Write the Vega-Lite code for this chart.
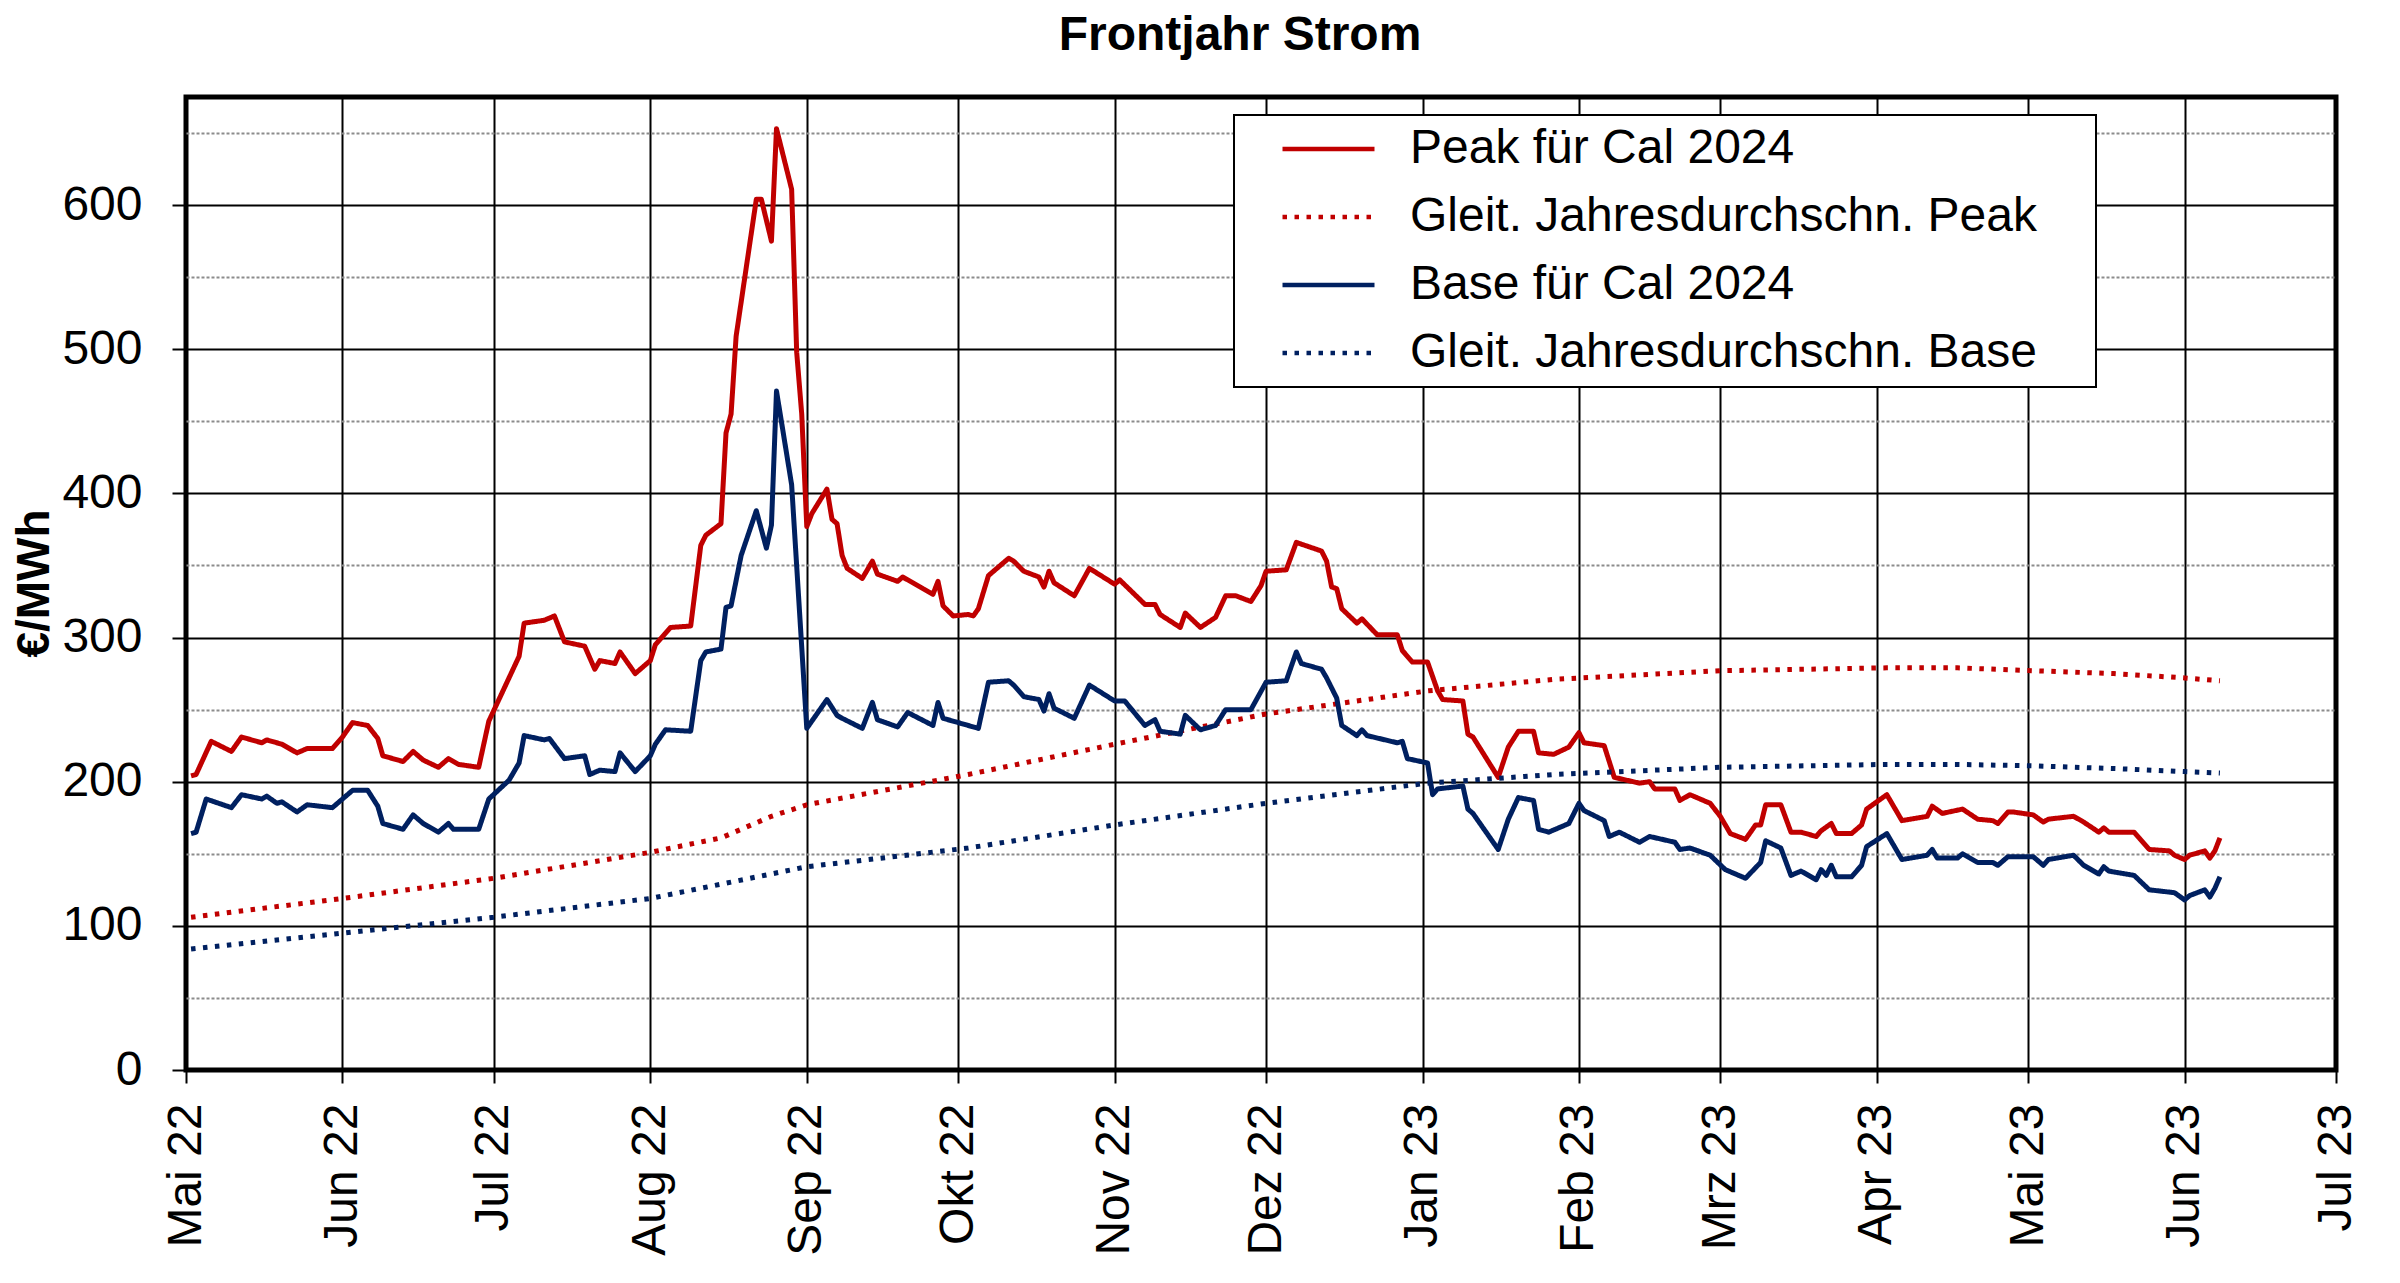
{
  "$schema": "https://vega.github.io/schema/vega-lite/v6.json",
  "autosize": "none",
  "width": 2150,
  "height": 973,
  "padding": {"left": 186, "top": 97, "right": 64, "bottom": 213},
  "background": "white",
  "title": {
    "text": "Frontjahr Strom",
    "fontSize": 48,
    "fontWeight": "bold",
    "anchor": "middle",
    "frame": "group",
    "baseline": "alphabetic",
    "offset": -1,
    "dx": -21,
    "color": "black"
  },
  "config": {
    "font": "Liberation Sans",
    "view": {"stroke": "black", "strokeWidth": 5},
    "axis": {"domain": false, "labelColor": "black", "titleColor": "black", "labelFontSize": 48, "tickColor": "black", "tickWidth": 2}
  },
  "data": {
    "values": [
      {"s": "Peak für Cal 2024", "d": "2022-05-02", "v": 204},
      {"s": "Peak für Cal 2024", "d": "2022-05-03", "v": 205},
      {"s": "Peak für Cal 2024", "d": "2022-05-06", "v": 228},
      {"s": "Peak für Cal 2024", "d": "2022-05-10", "v": 221},
      {"s": "Peak für Cal 2024", "d": "2022-05-12", "v": 231},
      {"s": "Peak für Cal 2024", "d": "2022-05-16", "v": 227},
      {"s": "Peak für Cal 2024", "d": "2022-05-17", "v": 229},
      {"s": "Peak für Cal 2024", "d": "2022-05-20", "v": 226},
      {"s": "Peak für Cal 2024", "d": "2022-05-23", "v": 220},
      {"s": "Peak für Cal 2024", "d": "2022-05-25", "v": 223},
      {"s": "Peak für Cal 2024", "d": "2022-05-30", "v": 223},
      {"s": "Peak für Cal 2024", "d": "2022-06-01", "v": 231},
      {"s": "Peak für Cal 2024", "d": "2022-06-03", "v": 241},
      {"s": "Peak für Cal 2024", "d": "2022-06-06", "v": 239},
      {"s": "Peak für Cal 2024", "d": "2022-06-08", "v": 230},
      {"s": "Peak für Cal 2024", "d": "2022-06-09", "v": 218},
      {"s": "Peak für Cal 2024", "d": "2022-06-13", "v": 214},
      {"s": "Peak für Cal 2024", "d": "2022-06-15", "v": 221},
      {"s": "Peak für Cal 2024", "d": "2022-06-17", "v": 215},
      {"s": "Peak für Cal 2024", "d": "2022-06-20", "v": 210},
      {"s": "Peak für Cal 2024", "d": "2022-06-22", "v": 216},
      {"s": "Peak für Cal 2024", "d": "2022-06-24", "v": 212},
      {"s": "Peak für Cal 2024", "d": "2022-06-28", "v": 210},
      {"s": "Peak für Cal 2024", "d": "2022-06-30", "v": 242},
      {"s": "Peak für Cal 2024", "d": "2022-07-06", "v": 287},
      {"s": "Peak für Cal 2024", "d": "2022-07-07", "v": 310},
      {"s": "Peak für Cal 2024", "d": "2022-07-11", "v": 312},
      {"s": "Peak für Cal 2024", "d": "2022-07-13", "v": 315},
      {"s": "Peak für Cal 2024", "d": "2022-07-15", "v": 297},
      {"s": "Peak für Cal 2024", "d": "2022-07-19", "v": 294},
      {"s": "Peak für Cal 2024", "d": "2022-07-21", "v": 278},
      {"s": "Peak für Cal 2024", "d": "2022-07-22", "v": 284},
      {"s": "Peak für Cal 2024", "d": "2022-07-25", "v": 282},
      {"s": "Peak für Cal 2024", "d": "2022-07-26", "v": 290},
      {"s": "Peak für Cal 2024", "d": "2022-07-29", "v": 275},
      {"s": "Peak für Cal 2024", "d": "2022-08-01", "v": 284},
      {"s": "Peak für Cal 2024", "d": "2022-08-02", "v": 295},
      {"s": "Peak für Cal 2024", "d": "2022-08-05", "v": 307},
      {"s": "Peak für Cal 2024", "d": "2022-08-09", "v": 308},
      {"s": "Peak für Cal 2024", "d": "2022-08-11", "v": 364},
      {"s": "Peak für Cal 2024", "d": "2022-08-12", "v": 371},
      {"s": "Peak für Cal 2024", "d": "2022-08-15", "v": 379},
      {"s": "Peak für Cal 2024", "d": "2022-08-16", "v": 442},
      {"s": "Peak für Cal 2024", "d": "2022-08-17", "v": 455},
      {"s": "Peak für Cal 2024", "d": "2022-08-18", "v": 509},
      {"s": "Peak für Cal 2024", "d": "2022-08-22", "v": 604},
      {"s": "Peak für Cal 2024", "d": "2022-08-23", "v": 604},
      {"s": "Peak für Cal 2024", "d": "2022-08-25", "v": 575},
      {"s": "Peak für Cal 2024", "d": "2022-08-26", "v": 653},
      {"s": "Peak für Cal 2024", "d": "2022-08-29", "v": 611},
      {"s": "Peak für Cal 2024", "d": "2022-08-30", "v": 498},
      {"s": "Peak für Cal 2024", "d": "2022-08-31", "v": 455},
      {"s": "Peak für Cal 2024", "d": "2022-09-01", "v": 377},
      {"s": "Peak für Cal 2024", "d": "2022-09-02", "v": 386},
      {"s": "Peak für Cal 2024", "d": "2022-09-05", "v": 403},
      {"s": "Peak für Cal 2024", "d": "2022-09-06", "v": 382},
      {"s": "Peak für Cal 2024", "d": "2022-09-07", "v": 379},
      {"s": "Peak für Cal 2024", "d": "2022-09-08", "v": 357},
      {"s": "Peak für Cal 2024", "d": "2022-09-09", "v": 348},
      {"s": "Peak für Cal 2024", "d": "2022-09-12", "v": 341},
      {"s": "Peak für Cal 2024", "d": "2022-09-14", "v": 353},
      {"s": "Peak für Cal 2024", "d": "2022-09-15", "v": 344},
      {"s": "Peak für Cal 2024", "d": "2022-09-19", "v": 339},
      {"s": "Peak für Cal 2024", "d": "2022-09-20", "v": 342},
      {"s": "Peak für Cal 2024", "d": "2022-09-26", "v": 330},
      {"s": "Peak für Cal 2024", "d": "2022-09-27", "v": 339},
      {"s": "Peak für Cal 2024", "d": "2022-09-28", "v": 322},
      {"s": "Peak für Cal 2024", "d": "2022-09-30", "v": 315},
      {"s": "Peak für Cal 2024", "d": "2022-10-03", "v": 316},
      {"s": "Peak für Cal 2024", "d": "2022-10-04", "v": 315},
      {"s": "Peak für Cal 2024", "d": "2022-10-05", "v": 320},
      {"s": "Peak für Cal 2024", "d": "2022-10-07", "v": 343},
      {"s": "Peak für Cal 2024", "d": "2022-10-10", "v": 352},
      {"s": "Peak für Cal 2024", "d": "2022-10-11", "v": 355},
      {"s": "Peak für Cal 2024", "d": "2022-10-12", "v": 353},
      {"s": "Peak für Cal 2024", "d": "2022-10-14", "v": 346},
      {"s": "Peak für Cal 2024", "d": "2022-10-17", "v": 342},
      {"s": "Peak für Cal 2024", "d": "2022-10-18", "v": 335},
      {"s": "Peak für Cal 2024", "d": "2022-10-19", "v": 346},
      {"s": "Peak für Cal 2024", "d": "2022-10-20", "v": 338},
      {"s": "Peak für Cal 2024", "d": "2022-10-24", "v": 329},
      {"s": "Peak für Cal 2024", "d": "2022-10-27", "v": 348},
      {"s": "Peak für Cal 2024", "d": "2022-11-01", "v": 337},
      {"s": "Peak für Cal 2024", "d": "2022-11-02", "v": 340},
      {"s": "Peak für Cal 2024", "d": "2022-11-07", "v": 323},
      {"s": "Peak für Cal 2024", "d": "2022-11-09", "v": 323},
      {"s": "Peak für Cal 2024", "d": "2022-11-10", "v": 316},
      {"s": "Peak für Cal 2024", "d": "2022-11-14", "v": 307},
      {"s": "Peak für Cal 2024", "d": "2022-11-15", "v": 317},
      {"s": "Peak für Cal 2024", "d": "2022-11-18", "v": 307},
      {"s": "Peak für Cal 2024", "d": "2022-11-21", "v": 314},
      {"s": "Peak für Cal 2024", "d": "2022-11-23", "v": 329},
      {"s": "Peak für Cal 2024", "d": "2022-11-25", "v": 329},
      {"s": "Peak für Cal 2024", "d": "2022-11-28", "v": 325},
      {"s": "Peak für Cal 2024", "d": "2022-11-30", "v": 336},
      {"s": "Peak für Cal 2024", "d": "2022-12-01", "v": 346},
      {"s": "Peak für Cal 2024", "d": "2022-12-05", "v": 347},
      {"s": "Peak für Cal 2024", "d": "2022-12-07", "v": 366},
      {"s": "Peak für Cal 2024", "d": "2022-12-12", "v": 360},
      {"s": "Peak für Cal 2024", "d": "2022-12-13", "v": 353},
      {"s": "Peak für Cal 2024", "d": "2022-12-14", "v": 335},
      {"s": "Peak für Cal 2024", "d": "2022-12-15", "v": 334},
      {"s": "Peak für Cal 2024", "d": "2022-12-16", "v": 320},
      {"s": "Peak für Cal 2024", "d": "2022-12-19", "v": 310},
      {"s": "Peak für Cal 2024", "d": "2022-12-20", "v": 313},
      {"s": "Peak für Cal 2024", "d": "2022-12-23", "v": 302},
      {"s": "Peak für Cal 2024", "d": "2022-12-27", "v": 302},
      {"s": "Peak für Cal 2024", "d": "2022-12-28", "v": 291},
      {"s": "Peak für Cal 2024", "d": "2022-12-30", "v": 283},
      {"s": "Peak für Cal 2024", "d": "2023-01-02", "v": 283},
      {"s": "Peak für Cal 2024", "d": "2023-01-04", "v": 263},
      {"s": "Peak für Cal 2024", "d": "2023-01-05", "v": 257},
      {"s": "Peak für Cal 2024", "d": "2023-01-09", "v": 256},
      {"s": "Peak für Cal 2024", "d": "2023-01-10", "v": 233},
      {"s": "Peak für Cal 2024", "d": "2023-01-11", "v": 231},
      {"s": "Peak für Cal 2024", "d": "2023-01-16", "v": 203},
      {"s": "Peak für Cal 2024", "d": "2023-01-18", "v": 224},
      {"s": "Peak für Cal 2024", "d": "2023-01-20", "v": 235},
      {"s": "Peak für Cal 2024", "d": "2023-01-23", "v": 235},
      {"s": "Peak für Cal 2024", "d": "2023-01-24", "v": 220},
      {"s": "Peak für Cal 2024", "d": "2023-01-27", "v": 219},
      {"s": "Peak für Cal 2024", "d": "2023-01-30", "v": 224},
      {"s": "Peak für Cal 2024", "d": "2023-02-01", "v": 234},
      {"s": "Peak für Cal 2024", "d": "2023-02-02", "v": 227},
      {"s": "Peak für Cal 2024", "d": "2023-02-06", "v": 225},
      {"s": "Peak für Cal 2024", "d": "2023-02-08", "v": 203},
      {"s": "Peak für Cal 2024", "d": "2023-02-13", "v": 199},
      {"s": "Peak für Cal 2024", "d": "2023-02-15", "v": 200},
      {"s": "Peak für Cal 2024", "d": "2023-02-16", "v": 195},
      {"s": "Peak für Cal 2024", "d": "2023-02-20", "v": 195},
      {"s": "Peak für Cal 2024", "d": "2023-02-21", "v": 187},
      {"s": "Peak für Cal 2024", "d": "2023-02-23", "v": 191},
      {"s": "Peak für Cal 2024", "d": "2023-02-27", "v": 185},
      {"s": "Peak für Cal 2024", "d": "2023-03-01", "v": 176},
      {"s": "Peak für Cal 2024", "d": "2023-03-03", "v": 164},
      {"s": "Peak für Cal 2024", "d": "2023-03-06", "v": 160},
      {"s": "Peak für Cal 2024", "d": "2023-03-08", "v": 170},
      {"s": "Peak für Cal 2024", "d": "2023-03-09", "v": 170},
      {"s": "Peak für Cal 2024", "d": "2023-03-10", "v": 184},
      {"s": "Peak für Cal 2024", "d": "2023-03-13", "v": 184},
      {"s": "Peak für Cal 2024", "d": "2023-03-15", "v": 165},
      {"s": "Peak für Cal 2024", "d": "2023-03-17", "v": 165},
      {"s": "Peak für Cal 2024", "d": "2023-03-20", "v": 162},
      {"s": "Peak für Cal 2024", "d": "2023-03-21", "v": 166},
      {"s": "Peak für Cal 2024", "d": "2023-03-23", "v": 171},
      {"s": "Peak für Cal 2024", "d": "2023-03-24", "v": 164},
      {"s": "Peak für Cal 2024", "d": "2023-03-27", "v": 164},
      {"s": "Peak für Cal 2024", "d": "2023-03-29", "v": 170},
      {"s": "Peak für Cal 2024", "d": "2023-03-30", "v": 181},
      {"s": "Peak für Cal 2024", "d": "2023-04-03", "v": 191},
      {"s": "Peak für Cal 2024", "d": "2023-04-06", "v": 173},
      {"s": "Peak für Cal 2024", "d": "2023-04-11", "v": 176},
      {"s": "Peak für Cal 2024", "d": "2023-04-12", "v": 183},
      {"s": "Peak für Cal 2024", "d": "2023-04-14", "v": 178},
      {"s": "Peak für Cal 2024", "d": "2023-04-18", "v": 181},
      {"s": "Peak für Cal 2024", "d": "2023-04-21", "v": 174},
      {"s": "Peak für Cal 2024", "d": "2023-04-24", "v": 173},
      {"s": "Peak für Cal 2024", "d": "2023-04-25", "v": 171},
      {"s": "Peak für Cal 2024", "d": "2023-04-27", "v": 179},
      {"s": "Peak für Cal 2024", "d": "2023-04-28", "v": 179},
      {"s": "Peak für Cal 2024", "d": "2023-05-02", "v": 177},
      {"s": "Peak für Cal 2024", "d": "2023-05-04", "v": 172},
      {"s": "Peak für Cal 2024", "d": "2023-05-05", "v": 174},
      {"s": "Peak für Cal 2024", "d": "2023-05-10", "v": 176},
      {"s": "Peak für Cal 2024", "d": "2023-05-12", "v": 172},
      {"s": "Peak für Cal 2024", "d": "2023-05-15", "v": 165},
      {"s": "Peak für Cal 2024", "d": "2023-05-16", "v": 168},
      {"s": "Peak für Cal 2024", "d": "2023-05-17", "v": 165},
      {"s": "Peak für Cal 2024", "d": "2023-05-22", "v": 165},
      {"s": "Peak für Cal 2024", "d": "2023-05-23", "v": 161},
      {"s": "Peak für Cal 2024", "d": "2023-05-25", "v": 153},
      {"s": "Peak für Cal 2024", "d": "2023-05-29", "v": 152},
      {"s": "Peak für Cal 2024", "d": "2023-05-30", "v": 149},
      {"s": "Peak für Cal 2024", "d": "2023-06-01", "v": 146},
      {"s": "Peak für Cal 2024", "d": "2023-06-02", "v": 149},
      {"s": "Peak für Cal 2024", "d": "2023-06-05", "v": 152},
      {"s": "Peak für Cal 2024", "d": "2023-06-06", "v": 147},
      {"s": "Peak für Cal 2024", "d": "2023-06-07", "v": 152},
      {"s": "Peak für Cal 2024", "d": "2023-06-08", "v": 161},

      {"s": "Gleit. Jahresdurchschn. Peak", "d": "2022-05-02", "v": 106},
      {"s": "Gleit. Jahresdurchschn. Peak", "d": "2022-06-01", "v": 119},
      {"s": "Gleit. Jahresdurchschn. Peak", "d": "2022-07-01", "v": 133},
      {"s": "Gleit. Jahresdurchschn. Peak", "d": "2022-08-01", "v": 151},
      {"s": "Gleit. Jahresdurchschn. Peak", "d": "2022-08-15", "v": 161},
      {"s": "Gleit. Jahresdurchschn. Peak", "d": "2022-08-25", "v": 176},
      {"s": "Gleit. Jahresdurchschn. Peak", "d": "2022-09-01", "v": 184},
      {"s": "Gleit. Jahresdurchschn. Peak", "d": "2022-10-03", "v": 205},
      {"s": "Gleit. Jahresdurchschn. Peak", "d": "2022-11-01", "v": 226},
      {"s": "Gleit. Jahresdurchschn. Peak", "d": "2022-12-01", "v": 247},
      {"s": "Gleit. Jahresdurchschn. Peak", "d": "2023-01-02", "v": 263},
      {"s": "Gleit. Jahresdurchschn. Peak", "d": "2023-01-27", "v": 271},
      {"s": "Gleit. Jahresdurchschn. Peak", "d": "2023-03-01", "v": 277},
      {"s": "Gleit. Jahresdurchschn. Peak", "d": "2023-04-03", "v": 279},
      {"s": "Gleit. Jahresdurchschn. Peak", "d": "2023-04-17", "v": 279},
      {"s": "Gleit. Jahresdurchschn. Peak", "d": "2023-05-02", "v": 277},
      {"s": "Gleit. Jahresdurchschn. Peak", "d": "2023-05-18", "v": 275},
      {"s": "Gleit. Jahresdurchschn. Peak", "d": "2023-06-01", "v": 272},
      {"s": "Gleit. Jahresdurchschn. Peak", "d": "2023-06-08", "v": 270},

      {"s": "Base für Cal 2024", "d": "2022-05-02", "v": 164},
      {"s": "Base für Cal 2024", "d": "2022-05-03", "v": 165},
      {"s": "Base für Cal 2024", "d": "2022-05-05", "v": 188},
      {"s": "Base für Cal 2024", "d": "2022-05-10", "v": 182},
      {"s": "Base für Cal 2024", "d": "2022-05-12", "v": 191},
      {"s": "Base für Cal 2024", "d": "2022-05-16", "v": 188},
      {"s": "Base für Cal 2024", "d": "2022-05-17", "v": 190},
      {"s": "Base für Cal 2024", "d": "2022-05-19", "v": 185},
      {"s": "Base für Cal 2024", "d": "2022-05-20", "v": 186},
      {"s": "Base für Cal 2024", "d": "2022-05-23", "v": 179},
      {"s": "Base für Cal 2024", "d": "2022-05-25", "v": 184},
      {"s": "Base für Cal 2024", "d": "2022-05-30", "v": 182},
      {"s": "Base für Cal 2024", "d": "2022-06-03", "v": 194},
      {"s": "Base für Cal 2024", "d": "2022-06-06", "v": 194},
      {"s": "Base für Cal 2024", "d": "2022-06-08", "v": 183},
      {"s": "Base für Cal 2024", "d": "2022-06-09", "v": 171},
      {"s": "Base für Cal 2024", "d": "2022-06-13", "v": 167},
      {"s": "Base für Cal 2024", "d": "2022-06-15", "v": 177},
      {"s": "Base für Cal 2024", "d": "2022-06-17", "v": 171},
      {"s": "Base für Cal 2024", "d": "2022-06-20", "v": 165},
      {"s": "Base für Cal 2024", "d": "2022-06-22", "v": 171},
      {"s": "Base für Cal 2024", "d": "2022-06-23", "v": 167},
      {"s": "Base für Cal 2024", "d": "2022-06-28", "v": 167},
      {"s": "Base für Cal 2024", "d": "2022-06-30", "v": 188},
      {"s": "Base für Cal 2024", "d": "2022-07-04", "v": 201},
      {"s": "Base für Cal 2024", "d": "2022-07-06", "v": 213},
      {"s": "Base für Cal 2024", "d": "2022-07-07", "v": 232},
      {"s": "Base für Cal 2024", "d": "2022-07-11", "v": 229},
      {"s": "Base für Cal 2024", "d": "2022-07-12", "v": 230},
      {"s": "Base für Cal 2024", "d": "2022-07-15", "v": 216},
      {"s": "Base für Cal 2024", "d": "2022-07-19", "v": 218},
      {"s": "Base für Cal 2024", "d": "2022-07-20", "v": 205},
      {"s": "Base für Cal 2024", "d": "2022-07-22", "v": 208},
      {"s": "Base für Cal 2024", "d": "2022-07-25", "v": 207},
      {"s": "Base für Cal 2024", "d": "2022-07-26", "v": 220},
      {"s": "Base für Cal 2024", "d": "2022-07-29", "v": 207},
      {"s": "Base für Cal 2024", "d": "2022-08-01", "v": 218},
      {"s": "Base für Cal 2024", "d": "2022-08-02", "v": 226},
      {"s": "Base für Cal 2024", "d": "2022-08-04", "v": 236},
      {"s": "Base für Cal 2024", "d": "2022-08-09", "v": 235},
      {"s": "Base für Cal 2024", "d": "2022-08-11", "v": 284},
      {"s": "Base für Cal 2024", "d": "2022-08-12", "v": 290},
      {"s": "Base für Cal 2024", "d": "2022-08-15", "v": 292},
      {"s": "Base für Cal 2024", "d": "2022-08-16", "v": 321},
      {"s": "Base für Cal 2024", "d": "2022-08-17", "v": 322},
      {"s": "Base für Cal 2024", "d": "2022-08-19", "v": 357},
      {"s": "Base für Cal 2024", "d": "2022-08-22", "v": 388},
      {"s": "Base für Cal 2024", "d": "2022-08-24", "v": 362},
      {"s": "Base für Cal 2024", "d": "2022-08-25", "v": 378},
      {"s": "Base für Cal 2024", "d": "2022-08-26", "v": 471},
      {"s": "Base für Cal 2024", "d": "2022-08-29", "v": 406},
      {"s": "Base für Cal 2024", "d": "2022-09-01", "v": 237},
      {"s": "Base für Cal 2024", "d": "2022-09-05", "v": 257},
      {"s": "Base für Cal 2024", "d": "2022-09-07", "v": 246},
      {"s": "Base für Cal 2024", "d": "2022-09-08", "v": 244},
      {"s": "Base für Cal 2024", "d": "2022-09-12", "v": 237},
      {"s": "Base für Cal 2024", "d": "2022-09-14", "v": 255},
      {"s": "Base für Cal 2024", "d": "2022-09-15", "v": 243},
      {"s": "Base für Cal 2024", "d": "2022-09-19", "v": 238},
      {"s": "Base für Cal 2024", "d": "2022-09-21", "v": 248},
      {"s": "Base für Cal 2024", "d": "2022-09-26", "v": 239},
      {"s": "Base für Cal 2024", "d": "2022-09-27", "v": 255},
      {"s": "Base für Cal 2024", "d": "2022-09-28", "v": 244},
      {"s": "Base für Cal 2024", "d": "2022-10-03", "v": 239},
      {"s": "Base für Cal 2024", "d": "2022-10-05", "v": 237},
      {"s": "Base für Cal 2024", "d": "2022-10-07", "v": 269},
      {"s": "Base für Cal 2024", "d": "2022-10-11", "v": 270},
      {"s": "Base für Cal 2024", "d": "2022-10-12", "v": 267},
      {"s": "Base für Cal 2024", "d": "2022-10-14", "v": 259},
      {"s": "Base für Cal 2024", "d": "2022-10-17", "v": 257},
      {"s": "Base für Cal 2024", "d": "2022-10-18", "v": 249},
      {"s": "Base für Cal 2024", "d": "2022-10-19", "v": 261},
      {"s": "Base für Cal 2024", "d": "2022-10-20", "v": 251},
      {"s": "Base für Cal 2024", "d": "2022-10-24", "v": 244},
      {"s": "Base für Cal 2024", "d": "2022-10-27", "v": 267},
      {"s": "Base für Cal 2024", "d": "2022-11-01", "v": 256},
      {"s": "Base für Cal 2024", "d": "2022-11-03", "v": 256},
      {"s": "Base für Cal 2024", "d": "2022-11-07", "v": 239},
      {"s": "Base für Cal 2024", "d": "2022-11-09", "v": 243},
      {"s": "Base für Cal 2024", "d": "2022-11-10", "v": 235},
      {"s": "Base für Cal 2024", "d": "2022-11-14", "v": 233},
      {"s": "Base für Cal 2024", "d": "2022-11-15", "v": 246},
      {"s": "Base für Cal 2024", "d": "2022-11-18", "v": 236},
      {"s": "Base für Cal 2024", "d": "2022-11-21", "v": 239},
      {"s": "Base für Cal 2024", "d": "2022-11-23", "v": 250},
      {"s": "Base für Cal 2024", "d": "2022-11-28", "v": 250},
      {"s": "Base für Cal 2024", "d": "2022-12-01", "v": 269},
      {"s": "Base für Cal 2024", "d": "2022-12-05", "v": 270},
      {"s": "Base für Cal 2024", "d": "2022-12-07", "v": 290},
      {"s": "Base für Cal 2024", "d": "2022-12-08", "v": 282},
      {"s": "Base für Cal 2024", "d": "2022-12-12", "v": 278},
      {"s": "Base für Cal 2024", "d": "2022-12-13", "v": 272},
      {"s": "Base für Cal 2024", "d": "2022-12-15", "v": 258},
      {"s": "Base für Cal 2024", "d": "2022-12-16", "v": 239},
      {"s": "Base für Cal 2024", "d": "2022-12-19", "v": 232},
      {"s": "Base für Cal 2024", "d": "2022-12-20", "v": 236},
      {"s": "Base für Cal 2024", "d": "2022-12-21", "v": 232},
      {"s": "Base für Cal 2024", "d": "2022-12-27", "v": 227},
      {"s": "Base für Cal 2024", "d": "2022-12-28", "v": 228},
      {"s": "Base für Cal 2024", "d": "2022-12-29", "v": 216},
      {"s": "Base für Cal 2024", "d": "2023-01-02", "v": 213},
      {"s": "Base für Cal 2024", "d": "2023-01-03", "v": 191},
      {"s": "Base für Cal 2024", "d": "2023-01-04", "v": 195},
      {"s": "Base für Cal 2024", "d": "2023-01-09", "v": 197},
      {"s": "Base für Cal 2024", "d": "2023-01-10", "v": 181},
      {"s": "Base für Cal 2024", "d": "2023-01-11", "v": 178},
      {"s": "Base für Cal 2024", "d": "2023-01-16", "v": 153},
      {"s": "Base für Cal 2024", "d": "2023-01-18", "v": 174},
      {"s": "Base für Cal 2024", "d": "2023-01-20", "v": 189},
      {"s": "Base für Cal 2024", "d": "2023-01-23", "v": 187},
      {"s": "Base für Cal 2024", "d": "2023-01-24", "v": 167},
      {"s": "Base für Cal 2024", "d": "2023-01-26", "v": 165},
      {"s": "Base für Cal 2024", "d": "2023-01-30", "v": 171},
      {"s": "Base für Cal 2024", "d": "2023-02-01", "v": 185},
      {"s": "Base für Cal 2024", "d": "2023-02-02", "v": 180},
      {"s": "Base für Cal 2024", "d": "2023-02-06", "v": 173},
      {"s": "Base für Cal 2024", "d": "2023-02-07", "v": 162},
      {"s": "Base für Cal 2024", "d": "2023-02-09", "v": 165},
      {"s": "Base für Cal 2024", "d": "2023-02-13", "v": 158},
      {"s": "Base für Cal 2024", "d": "2023-02-15", "v": 162},
      {"s": "Base für Cal 2024", "d": "2023-02-20", "v": 158},
      {"s": "Base für Cal 2024", "d": "2023-02-21", "v": 153},
      {"s": "Base für Cal 2024", "d": "2023-02-23", "v": 154},
      {"s": "Base für Cal 2024", "d": "2023-02-27", "v": 149},
      {"s": "Base für Cal 2024", "d": "2023-03-02", "v": 139},
      {"s": "Base für Cal 2024", "d": "2023-03-06", "v": 133},
      {"s": "Base für Cal 2024", "d": "2023-03-09", "v": 144},
      {"s": "Base für Cal 2024", "d": "2023-03-10", "v": 159},
      {"s": "Base für Cal 2024", "d": "2023-03-13", "v": 154},
      {"s": "Base für Cal 2024", "d": "2023-03-15", "v": 135},
      {"s": "Base für Cal 2024", "d": "2023-03-17", "v": 138},
      {"s": "Base für Cal 2024", "d": "2023-03-20", "v": 132},
      {"s": "Base für Cal 2024", "d": "2023-03-21", "v": 139},
      {"s": "Base für Cal 2024", "d": "2023-03-22", "v": 135},
      {"s": "Base für Cal 2024", "d": "2023-03-23", "v": 142},
      {"s": "Base für Cal 2024", "d": "2023-03-24", "v": 134},
      {"s": "Base für Cal 2024", "d": "2023-03-27", "v": 134},
      {"s": "Base für Cal 2024", "d": "2023-03-29", "v": 142},
      {"s": "Base für Cal 2024", "d": "2023-03-30", "v": 155},
      {"s": "Base für Cal 2024", "d": "2023-04-03", "v": 164},
      {"s": "Base für Cal 2024", "d": "2023-04-06", "v": 146},
      {"s": "Base für Cal 2024", "d": "2023-04-11", "v": 149},
      {"s": "Base für Cal 2024", "d": "2023-04-12", "v": 153},
      {"s": "Base für Cal 2024", "d": "2023-04-13", "v": 147},
      {"s": "Base für Cal 2024", "d": "2023-04-17", "v": 147},
      {"s": "Base für Cal 2024", "d": "2023-04-18", "v": 150},
      {"s": "Base für Cal 2024", "d": "2023-04-21", "v": 144},
      {"s": "Base für Cal 2024", "d": "2023-04-24", "v": 144},
      {"s": "Base für Cal 2024", "d": "2023-04-25", "v": 142},
      {"s": "Base für Cal 2024", "d": "2023-04-27", "v": 148},
      {"s": "Base für Cal 2024", "d": "2023-05-02", "v": 148},
      {"s": "Base für Cal 2024", "d": "2023-05-04", "v": 142},
      {"s": "Base für Cal 2024", "d": "2023-05-05", "v": 146},
      {"s": "Base für Cal 2024", "d": "2023-05-10", "v": 149},
      {"s": "Base für Cal 2024", "d": "2023-05-12", "v": 142},
      {"s": "Base für Cal 2024", "d": "2023-05-15", "v": 136},
      {"s": "Base für Cal 2024", "d": "2023-05-16", "v": 141},
      {"s": "Base für Cal 2024", "d": "2023-05-17", "v": 138},
      {"s": "Base für Cal 2024", "d": "2023-05-22", "v": 135},
      {"s": "Base für Cal 2024", "d": "2023-05-25", "v": 125},
      {"s": "Base für Cal 2024", "d": "2023-05-30", "v": 123},
      {"s": "Base für Cal 2024", "d": "2023-06-01", "v": 118},
      {"s": "Base für Cal 2024", "d": "2023-06-02", "v": 121},
      {"s": "Base für Cal 2024", "d": "2023-06-05", "v": 125},
      {"s": "Base für Cal 2024", "d": "2023-06-06", "v": 120},
      {"s": "Base für Cal 2024", "d": "2023-06-07", "v": 126},
      {"s": "Base für Cal 2024", "d": "2023-06-08", "v": 134},

      {"s": "Gleit. Jahresdurchschn. Base", "d": "2022-05-02", "v": 84},
      {"s": "Gleit. Jahresdurchschn. Base", "d": "2022-06-01", "v": 95},
      {"s": "Gleit. Jahresdurchschn. Base", "d": "2022-07-01", "v": 106},
      {"s": "Gleit. Jahresdurchschn. Base", "d": "2022-08-01", "v": 119},
      {"s": "Gleit. Jahresdurchschn. Base", "d": "2022-09-01", "v": 141},
      {"s": "Gleit. Jahresdurchschn. Base", "d": "2022-10-03", "v": 154},
      {"s": "Gleit. Jahresdurchschn. Base", "d": "2022-11-01", "v": 170},
      {"s": "Gleit. Jahresdurchschn. Base", "d": "2022-12-01", "v": 185},
      {"s": "Gleit. Jahresdurchschn. Base", "d": "2023-01-02", "v": 199},
      {"s": "Gleit. Jahresdurchschn. Base", "d": "2023-01-27", "v": 205},
      {"s": "Gleit. Jahresdurchschn. Base", "d": "2023-03-01", "v": 210},
      {"s": "Gleit. Jahresdurchschn. Base", "d": "2023-04-03", "v": 212},
      {"s": "Gleit. Jahresdurchschn. Base", "d": "2023-04-17", "v": 212},
      {"s": "Gleit. Jahresdurchschn. Base", "d": "2023-05-02", "v": 211},
      {"s": "Gleit. Jahresdurchschn. Base", "d": "2023-05-19", "v": 209},
      {"s": "Gleit. Jahresdurchschn. Base", "d": "2023-06-01", "v": 207},
      {"s": "Gleit. Jahresdurchschn. Base", "d": "2023-06-08", "v": 206}
    ]
  },
  "mark": {"type": "line", "strokeWidth": 5, "strokeCap": "butt", "strokeJoin": "round"},
  "encoding": {
    "x": {
      "field": "d",
      "type": "temporal",
      "scale": {
        "type": "utc",
        "domain": [
          {"year": 2022, "month": 5, "date": 1, "utc": true},
          {"year": 2023, "month": 7, "date": 1, "utc": true}
        ]
      },
      "axis": {
        "title": null,
        "values": [
          {"year": 2022, "month": 5, "date": 1, "utc": true},
          {"year": 2022, "month": 6, "date": 1, "utc": true},
          {"year": 2022, "month": 7, "date": 1, "utc": true},
          {"year": 2022, "month": 8, "date": 1, "utc": true},
          {"year": 2022, "month": 9, "date": 1, "utc": true},
          {"year": 2022, "month": 10, "date": 1, "utc": true},
          {"year": 2022, "month": 11, "date": 1, "utc": true},
          {"year": 2022, "month": 12, "date": 1, "utc": true},
          {"year": 2023, "month": 1, "date": 1, "utc": true},
          {"year": 2023, "month": 2, "date": 1, "utc": true},
          {"year": 2023, "month": 3, "date": 1, "utc": true},
          {"year": 2023, "month": 4, "date": 1, "utc": true},
          {"year": 2023, "month": 5, "date": 1, "utc": true},
          {"year": 2023, "month": 6, "date": 1, "utc": true},
          {"year": 2023, "month": 7, "date": 1, "utc": true}
        ],
        "labelExpr": "['Jan','Feb','Mrz','Apr','Mai','Jun','Jul','Aug','Sep','Okt','Nov','Dez'][utcmonth(datum.value)] + ' ' + utcFormat(datum.value, '%y')",
        "labelAngle": -90,
        "labelAlign": "right",
        "labelBaseline": "middle",
        "labelPadding": 20,
        "labelFlush": false,
        "labelOverlap": false,
        "tickSize": 13,
        "grid": true,
        "gridColor": "black",
        "gridWidth": 2
      }
    },
    "y": {
      "field": "v",
      "type": "quantitative",
      "scale": {"domain": [0, 675], "nice": false},
      "axis": {
        "title": "€/MWh",
        "titleFontSize": 46,
        "titleFontWeight": "bold",
        "titleAngle": -90,
        "titleAlign": "center",
        "titleBaseline": "middle",
        "titleX": -152,
        "titleY": 486,
        "values": [0, 50, 100, 150, 200, 250, 300, 350, 400, 450, 500, 550, 600, 650],
        "labelExpr": "datum.value % 100 === 0 ? datum.label : ''",
        "labelPadding": 30,
        "labelFlush": false,
        "labelOverlap": false,
        "tickSize": 14,
        "tickColor": {"condition": {"test": "datum.value % 100 !== 0", "value": "transparent"}, "value": "black"},
        "grid": true,
        "gridColor": {"condition": {"test": "datum.value % 100 !== 0", "value": "#8c8c8c"}, "value": "black"},
        "gridDash": {"condition": {"test": "datum.value % 100 !== 0", "value": [3, 2]}, "value": []},
        "gridWidth": 2
      }
    },
    "color": {
      "field": "s",
      "type": "nominal",
      "scale": {
        "domain": ["Peak für Cal 2024", "Gleit. Jahresdurchschn. Peak", "Base für Cal 2024", "Gleit. Jahresdurchschn. Base"],
        "range": ["#C00000", "#C00000", "#002060", "#002060"]
      },
      "legend": {
        "title": null,
        "orient": "none",
        "legendX": 1048,
        "legendY": 18,
        "fillColor": "white",
        "strokeColor": "black",
        "padding": 5,
        "symbolType": "stroke",
        "symbolSize": 8464,
        "symbolStrokeWidth": 4.5,
        "symbolOffset": 41,
        "clipHeight": 58,
        "rowPadding": 10,
        "labelOffset": 33,
        "labelFontSize": 48,
        "labelColor": "black",
        "labelLimit": 2000,
        "labelExpr": "datum.label + '\u00a0\u00a0\u00a0\u00a0\u200b'",
        "encode": {"legend": {"update": {"strokeWidth": {"value": 2}}}}
      }
    },
    "strokeDash": {
      "field": "s",
      "type": "nominal",
      "scale": {
        "domain": ["Peak für Cal 2024", "Gleit. Jahresdurchschn. Peak", "Base für Cal 2024", "Gleit. Jahresdurchschn. Base"],
        "range": [[1, 0], [4.5, 7.5], [1, 0], [4.5, 7.5]]
      },
      "legend": null
    }
  }
}
